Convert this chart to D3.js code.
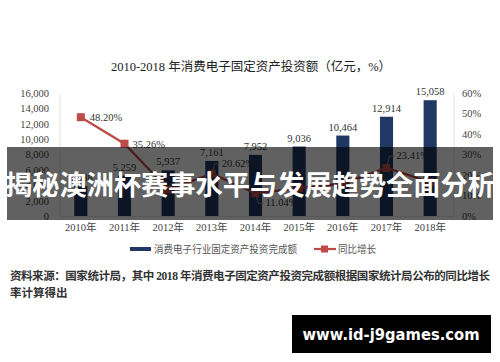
<!DOCTYPE html>
<html><head><meta charset="utf-8">
<script src="https://cdn.jsdelivr.net/npm/d3@7"></script>
<style>body{margin:0;background:#fff}svg{display:block}</style>
</head><body>
<svg id="c" width="500" height="362"></svg>
<script>
const years = ["2010年","2011年","2012年","2013年","2014年","2015年","2016年","2017年","2018年"];
const invest = [3888, 5259, 5937, 7161, 7952, 9036, 10464, 12914, 15058];
const growth = [48.20, 35.26, 12.89, 20.62, 11.04, 13.63, 15.80, 23.41, 16.60];
const leftTicks = [0, 2000, 4000, 6000, 8000, 10000, 12000, 14000, 16000];
const rightTicks = [0, 10, 20, 30, 40, 50, 60];
const titleText = "2010-2018 年消费电子固定资产投资额（亿元，%）";
const legendBar = "消费电子行业固定资产投资完成额";
const legendLine = "同比增长";
const source1 = "资料来源：国家统计局，其中 2018 年消费电子固定资产投资完成额根据国家统计局公布的同比增长";
const source2 = "率计算得出";
const banner = "揭秘澳洲杯赛事水平与发展趋势全面分析";
const site = "www.id-j9games.com";

const svg = d3.select("#c");
const serif = "'Liberation Serif','Noto Sans CJK SC',serif";
const x = d3.scaleBand().domain(years).range([59, 452]).paddingInner(0.7).paddingOuter(0.35);
const yL = d3.scaleLinear().domain([0, 16000]).range([216, 93]);
const yR = d3.scaleLinear().domain([0, 60]).range([216, 93]);
const cx = d => x(d) + x.bandwidth() / 2;

svg.append("text").attr("x", 251).attr("y", 71).attr("text-anchor", "middle")
  .attr("font-family", serif).attr("font-size", 12.5).attr("fill", "#222").text(titleText);

// frame lines
svg.append("line").attr("x1", 60).attr("x2", 60).attr("y1", 93).attr("y2", 216).attr("stroke", "#e4e4e4");
svg.append("line").attr("x1", 454).attr("x2", 454).attr("y1", 93).attr("y2", 216).attr("stroke", "#e4e4e4");
svg.append("line").attr("x1", 60).attr("x2", 454).attr("y1", 216.5).attr("y2", 216.5).attr("stroke", "#e4e4e4");

// left axis
const gl = svg.append("g").attr("transform", "translate(49,0)")
  .call(d3.axisLeft(yL).tickValues(leftTicks).tickSize(0).tickPadding(0).tickFormat(d3.format(",")));
gl.select(".domain").remove();
gl.selectAll("text").attr("font-family", serif).attr("font-size", 10.5).attr("fill", "#444");
// right axis
const gr = svg.append("g").attr("transform", "translate(462,0)")
  .call(d3.axisRight(yR).tickValues(rightTicks).tickSize(0).tickPadding(0).tickFormat(d => d + "%"));
gr.select(".domain").remove();
gr.selectAll("text").attr("font-family", serif).attr("font-size", 10.5).attr("fill", "#444");
// bottom axis
const gb = svg.append("g").attr("transform", "translate(0,220)")
  .call(d3.axisBottom(x).tickSize(0).tickPadding(4));
gb.select(".domain").remove();
gb.selectAll("text").attr("font-family", serif).attr("font-size", 10.5).attr("fill", "#444");

// bars
svg.selectAll("rect.bar").data(invest).join("rect").attr("class", "bar")
  .attr("x", (d, i) => x(years[i])).attr("width", x.bandwidth())
  .attr("y", d => yL(d)).attr("height", d => yL(0) - yL(d)).attr("fill", "#203864");
svg.selectAll("text.bl").data(invest).join("text").attr("class", "bl")
  .attr("x", (d, i) => cx(years[i])).attr("y", d => yL(d) - 5).attr("text-anchor", "middle")
  .attr("font-family", serif).attr("font-size", 10.5).attr("fill", "#333").text(d3.format(","));

// line
const line = d3.line().x((d, i) => cx(years[i])).y(d => yR(d));
svg.append("path").datum(growth).attr("d", line).attr("fill", "none").attr("stroke", "#be4b48").attr("stroke-width", 2.2);
svg.selectAll("rect.mk").data(growth).join("rect").attr("class", "mk")
  .attr("x", (d, i) => cx(years[i]) - 4).attr("y", d => yR(d) - 4).attr("width", 8).attr("height", 8).attr("fill", "#be4b48");

// percent labels
const labelIdx = [0, 1, 3, 4, 7];
const offs = {0: [9, 4, false], 1: [8, 4, false], 3: [10, -7, true], 4: [10, 13, true], 7: [10, -9, true]};
labelIdx.forEach(i => {
  const px = cx(years[i]), py = yR(growth[i]);
  const [dx, dy, lead] = offs[i];
  if (lead) {
    svg.append("path").attr("d", `M${px},${py} L${px + 3},${py + dy - 3} L${px + dx - 2},${py + dy - 3}`)
      .attr("fill", "none").attr("stroke", "#999").attr("stroke-width", 0.8);
  }
  svg.append("text").attr("x", px + dx).attr("y", py + dy).attr("font-family", serif)
    .attr("font-size", 10.5).attr("fill", "#333").text(growth[i].toFixed(2) + "%");
});

// legend
svg.append("line").attr("x1", 130).attr("x2", 151).attr("y1", 249).attr("y2", 249).attr("stroke", "#203864").attr("stroke-width", 4);
svg.append("text").attr("x", 154).attr("y", 253).attr("font-family", serif).attr("font-size", 10.5).attr("fill", "#555")
  .attr("textLength", 143).attr("lengthAdjust", "spacingAndGlyphs").text(legendBar);
svg.append("line").attr("x1", 314).attr("x2", 336).attr("y1", 249).attr("y2", 249).attr("stroke", "#be4b48").attr("stroke-width", 2.2);
svg.append("rect").attr("x", 321).attr("y", 245.5).attr("width", 7).attr("height", 7).attr("fill", "#be4b48");
svg.append("text").attr("x", 338).attr("y", 253).attr("font-family", serif).attr("font-size", 10.5).attr("fill", "#555")
  .attr("textLength", 38).attr("lengthAdjust", "spacingAndGlyphs").text(legendLine);

// source
svg.append("text").attr("x", 10).attr("y", 280).attr("font-family", serif).attr("font-size", 11.5)
  .attr("font-weight", "bold").attr("fill", "#333").attr("textLength", 480).attr("lengthAdjust", "spacing").text(source1);
svg.append("text").attr("x", 10).attr("y", 297).attr("font-family", serif).attr("font-size", 11.5)
  .attr("font-weight", "bold").attr("fill", "#333").text(source2);

// banner overlay
svg.append("rect").attr("x", 7).attr("y", 147).attr("width", 486).attr("height", 73).attr("fill", "rgba(0,0,0,0.62)");
svg.append("text").attr("x", 250).attr("y", 195).attr("text-anchor", "middle")
  .attr("font-family", "'Noto Sans CJK SC',sans-serif").attr("font-weight", "bold").attr("font-size", 27)
  .attr("fill", "#fff").attr("textLength", 490).attr("lengthAdjust", "spacingAndGlyphs").text(banner);

// watermark
svg.append("rect").attr("x", 292).attr("y", 315).attr("width", 199).attr("height", 38).attr("fill", "#000");
svg.append("text").attr("x", 391).attr("y", 340).attr("text-anchor", "middle")
  .attr("font-family", "'DejaVu Sans',sans-serif").attr("font-weight", "bold").attr("font-size", 15.5)
  .attr("fill", "#fff").attr("textLength", 177).attr("lengthAdjust", "spacingAndGlyphs").text(site);
</script>
</body></html>
